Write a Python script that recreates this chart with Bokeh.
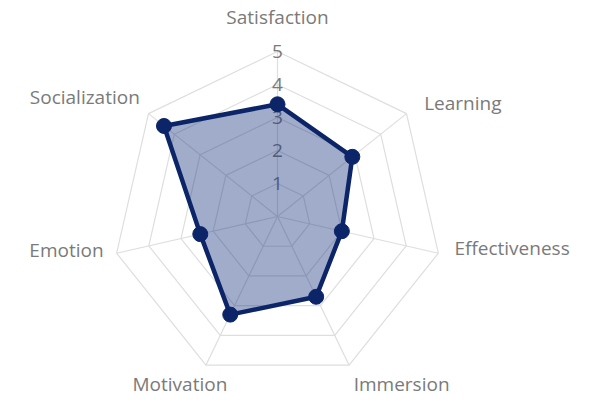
import math
from bokeh.plotting import figure
from bokeh.models import Range1d
from bokeh.core.properties import value
from bokeh.embed import file_html
from bokeh.resources import INLINE

# ---- data ----
categories = ["Satisfaction", "Learning", "Effectiveness", "Immersion",
              "Motivation", "Emotion", "Socialization"]
scores = [3.4, 2.9, 2.0, 2.7, 3.3, 2.4, 4.4]
tick_values = [1, 2, 3, 4, 5]
tick_labels = ["1", "2", "3", "4", "5"]

# ---- layout / style ----
W, H = 576, 396
SCALE = 33.0          # pixels per unit
CX, CY = 277, 216     # centre in figure pixels (from top-left)
RMAX = 5
LABEL_R = 5.53
# small pixel nudges for category labels (dx right, dy down)
label_dx = [0, 4, -1, -3, 29, 4, 5]
label_dy = [-17, 0, -9, 3, 3, -7, -6]

grid_color = "#dedede"
text_color = "#7a7a7a"
line_color = "#0c2468"
fill_color = "#13307a"
FONT = "Open Sans"

n = len(categories)
angles = [2 * math.pi * i / n for i in range(n)]

p = figure(width=W, height=H, output_backend="svg", toolbar_location=None,
           x_range=Range1d(-CX / SCALE, (W - CX) / SCALE),
           y_range=Range1d(-(H - CY) / SCALE, CY / SCALE),
           x_axis_location=None, y_axis_location=None, min_border=0)
p.grid.visible = False
p.outline_line_color = None
p.background_fill_color = "white"
p.border_fill_color = "white"

# grid rings
for r in tick_values:
    xs = [r * math.sin(a) for a in angles]
    ys = [r * math.cos(a) for a in angles]
    p.line(xs + [xs[0]], ys + [ys[0]], line_color=grid_color, line_width=1.2)

# spokes
for a in angles:
    p.line([0, RMAX * math.sin(a)], [0, RMAX * math.cos(a)],
           line_color=grid_color, line_width=1.2)

# tick labels
p.text(x=[0] * len(tick_values), y=tick_values, text=tick_labels,
       text_align="center", text_baseline="middle",
       text_color=text_color, text_font=value(FONT), text_font_size="19px")

# data polygon
px = [s * math.sin(a) for s, a in zip(scores, angles)]
py = [s * math.cos(a) for s, a in zip(scores, angles)]
p.patch(px, py, fill_color=fill_color, fill_alpha=0.4, line_color=None)
p.line(px + [px[0]], py + [py[0]], line_color=line_color, line_width=4.5,
       line_join="round")
p.scatter(px, py, size=15, fill_color=line_color, line_color=line_color)

# category labels
groups = {"left": ([], [], []), "right": ([], [], []), "center": ([], [], [])}
for i, (c, a) in enumerate(zip(categories, angles)):
    s = math.sin(a)
    align = "center" if abs(s) < 0.1 else ("left" if s > 0 else "right")
    lx = LABEL_R * s + label_dx[i] / SCALE
    ly = LABEL_R * math.cos(a) - label_dy[i] / SCALE
    g = groups[align]
    g[0].append(lx)
    g[1].append(ly)
    g[2].append(c)
for align, (xs, ys, ts) in groups.items():
    if ts:
        p.text(x=xs, y=ys, text=ts, text_align=align, text_baseline="middle",
               text_color=text_color, text_font=value(FONT),
               text_font_size="19px")

open("out.html", "w").write(file_html(p, INLINE))
